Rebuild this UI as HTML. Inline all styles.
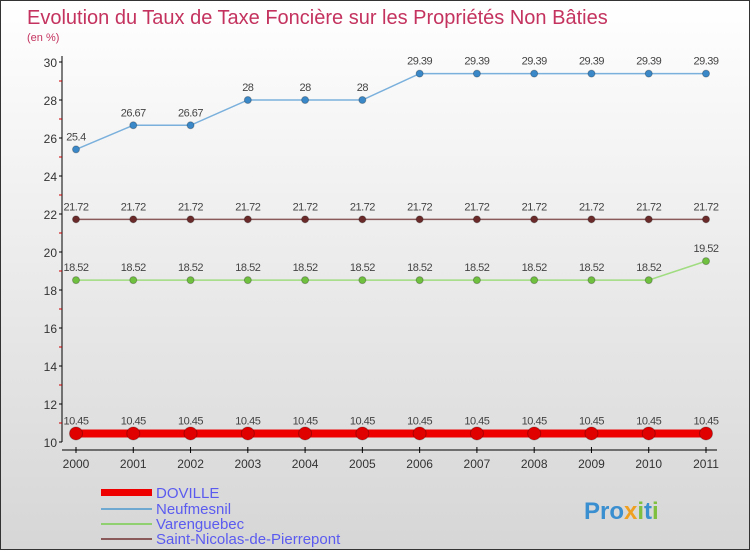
<!DOCTYPE html>
<html><head><meta charset="utf-8"><style>
body{margin:0}
#c{width:748px;height:548px;border:1px solid #333;background:linear-gradient(#ffffff,#d6d6d6);position:relative;overflow:hidden;font-family:"Liberation Sans",sans-serif}
</style></head><body>
<div id="c">
<svg width="748" height="548" xmlns="http://www.w3.org/2000/svg" id="svg">
<text x="26" y="23" font-size="20" fill="#c4335f">Evolution du Taux de Taxe Foncière sur les Propriétés Non Bâties</text>
<text x="26" y="40" font-size="11" fill="#c4335f">(en %)</text>
<g id="axes"></g>
<g id="series"></g>
<g id="legend">
<rect x="100" y="488" width="51" height="7" fill="#e00"/>
<text x="155" y="497" font-size="15" fill="#5b5bf0">DOVILLE</text>
<rect x="100" y="507" width="51" height="2" fill="#6fa8d0"/>
<text x="155" y="513" font-size="15" fill="#5b5bf0">Neufmesnil</text>
<rect x="100" y="522" width="51" height="2" fill="#90d070"/>
<text x="155" y="528" font-size="15" fill="#5b5bf0">Varenguebec</text>
<rect x="100" y="537" width="51" height="2" fill="#8a5a5a"/>
<text x="155" y="543" font-size="15" fill="#5b5bf0">Saint-Nicolas-de-Pierrepont</text>
</g>
<text x="583" y="518" font-size="24" font-weight="bold" fill="#3a8fd0">Pro<tspan fill="#f0a020">x</tspan><tspan fill="#80c040">i</tspan>t<tspan fill="#80c040">i</tspan></text>
</svg>
</div>
<script>
const years=[2000,2001,2002,2003,2004,2005,2006,2007,2008,2009,2010,2011];
const doville=[10.45,10.45,10.45,10.45,10.45,10.45,10.45,10.45,10.45,10.45,10.45,10.45];
const neufmesnil=[25.4,26.67,26.67,28,28,28,29.39,29.39,29.39,29.39,29.39,29.39];
const varenguebec=[18.52,18.52,18.52,18.52,18.52,18.52,18.52,18.52,18.52,18.52,18.52,19.52];
const saintNicolas=[21.72,21.72,21.72,21.72,21.72,21.72,21.72,21.72,21.72,21.72,21.72,21.72];
const yTicks=[10,12,14,16,18,20,22,24,26,28,30];
const NS="http://www.w3.org/2000/svg";
function X(i){return 75+i*(630/11);}
function Y(v){return 441-(v-10)*19;}
function mk(t,a,p){const e=document.createElementNS(NS,t);for(const k in a)e.setAttribute(k,a[k]);p.appendChild(e);return e;}
const ax=document.getElementById('axes');
let l=mk('line',{x1:61,y1:55,x2:61,y2:441,stroke:'#000'},ax);


l=mk('line',{x1:61,y1:449,x2:716,y2:449,stroke:'#000'},ax);


yTicks.forEach(v=>{
 mk('line',{x1:58,y1:Y(v),x2:61,y2:Y(v),stroke:'#000'},ax);
 if(v<30)mk('line',{x1:58,y1:Y(v+1),x2:61,y2:Y(v+1),stroke:'#c00'},ax);
 const t=mk('text',{x:56,y:Y(v)+5,'font-size':12,fill:'#333','text-anchor':'end'},ax);t.textContent=v;
 
 
});
years.forEach((y,i)=>{
 mk('line',{x1:X(i),y1:446,x2:X(i),y2:452,stroke:'#000'},ax);
 const t=mk('text',{x:X(i),y:467,'font-size':12,fill:'#333','text-anchor':'middle'},ax);t.textContent=y;
 
 
});
const sg=document.getElementById('series');
function series(vals,color,dot,w,r,name){
 const g=mk('g',{},sg);
 
 
 mk('polyline',{points:vals.map((v,i)=>X(i)+','+Y(v)).join(' '),fill:'none',stroke:color,'stroke-width':w},g);
 vals.forEach((v,i)=>{
  const c=mk('circle',{cx:X(i),cy:Y(v),r:r,fill:dot,stroke:'rgba(0,0,0,0.25)'},g);
  
  
  const t=mk('text',{x:X(i),y:Y(v)-9,'font-size':11,fill:'#444','text-anchor':'middle','letter-spacing':'-0.5'},g);t.textContent=v;
  
  
 });
}
series(neufmesnil,'#7ab0dc','#3a88c8',1.5,3.5,'neufmesnil');
series(saintNicolas,'#8a5a5a','#6a2a2a',1.5,3.5,'saint-nicolas');
series(varenguebec,'#a0dc80','#70c040',1.5,3.5,'varenguebec');
series(doville,'#ee0000','#e00000',8,6.5,'doville');
</script>
</body></html>
